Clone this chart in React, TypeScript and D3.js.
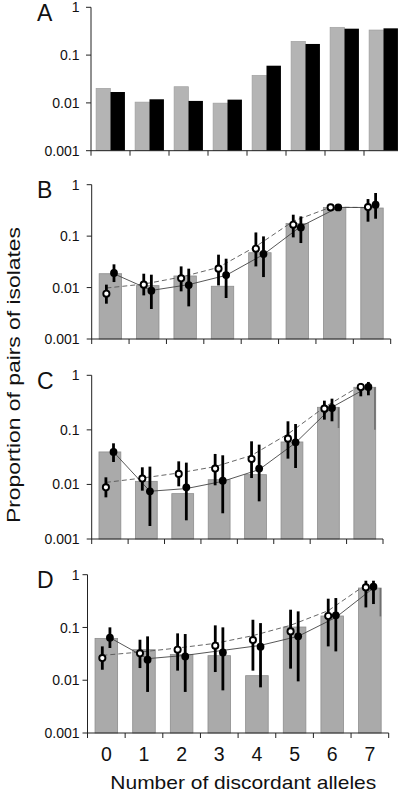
import React from "react";
import * as d3 from "d3";

const categories = ["0", "1", "2", "3", "4", "5", "6", "7"];
const yTickValues = [1, 0.1, 0.01, 0.001];
const yTickLabels = ["1", "0.1", "0.01", "0.001"];
const panelLetters = ["A", "B", "C", "D"];
const xAxisTitle = "Number of discordant alleles";
const yAxisTitle = "Proportion of pairs of isolates";

// Panel A: paired bars (grey, black)
const aGrey = [0.0202, 0.0104, 0.0218, 0.0099, 0.0378, 0.194, 0.382, 0.335];
const aBlack = [0.0169, 0.0119, 0.011, 0.0117, 0.06, 0.171, 0.357, 0.363];

// Panel B
const bBars = [0.0186, 0.0109, 0.0168, 0.0106, 0.0476, 0.177, 0.362, 0.352];
const bOpen = [0.0076, 0.0114, 0.0151, 0.0233, 0.057, 0.167, 0.362, 0.368];
const bOpenLo = [0.00486, 0.00705, 0.00844, 0.011, 0.0258, 0.0946, 0.312, 0.191];
const bOpenHi = [0.0114, 0.0186, 0.0258, 0.0436, 0.118, 0.261, 0.408, 0.526];
const bFilled = [0.0192, 0.00869, 0.0112, 0.0175, 0.0449, 0.148, 0.362, 0.408];
const bFilledLo = [0.0128, 0.00383, 0.00431, 0.00626, 0.016, 0.0734, 0.31, 0.218];
const bFilledHi = [0.0283, 0.0178, 0.0233, 0.0364, 0.0989, 0.242, 0.41, 0.689];
const bDashed = [0.0098, 0.0117, 0.016, 0.0247, 0.063, 0.195, 0.365, 0.36];
const bSolid = [0.0185, 0.0088, 0.0114, 0.0173, 0.044, 0.155, 0.362, 0.36];
const bEdgeBins: string[] = [];
const bEdgeLo: number[] = [];

// Panel C
const cBars = [0.0394, 0.0114, 0.00678, 0.0122, 0.0151, 0.06, 0.259, 0.603];
const cOpen = [0.00886, 0.0128, 0.0156, 0.0195, 0.0293, 0.069, 0.245, 0.611];
const cOpenLo = [0.0058, 0.00769, 0.00924, 0.00964, 0.0131, 0.0297, 0.154, 0.412];
const cOpenHi = [0.0135, 0.0206, 0.0265, 0.0362, 0.0617, 0.1436, 0.343, 0.724];
const cFilled = [0.0394, 0.00748, 0.00886, 0.0117, 0.0195, 0.0592, 0.252, 0.611];
const cFilledLo = [0.0258, 0.00173, 0.0022, 0.00296, 0.0049, 0.02, 0.1436, 0.43];
const cFilledHi = [0.0567, 0.0212, 0.0251, 0.0342, 0.0536, 0.128, 0.373, 0.755];
const cDashed = [0.0109, 0.0131, 0.0162, 0.0212, 0.034, 0.084, 0.26, 0.65];
const cSolid = [0.0394, 0.0075, 0.0084, 0.0114, 0.0187, 0.058, 0.26, 0.61];
const cEdgeBins = ["6", "7"];
const cEdgeLo = [0.108, 0.101];

// Panel D
const dBars = [0.0621, 0.0379, 0.0309, 0.0292, 0.0122, 0.102, 0.165, 0.559];
const dOpen = [0.0263, 0.0323, 0.0379, 0.0451, 0.0578, 0.0843, 0.165, 0.575];
const dOpenLo = [0.0158, 0.017, 0.0152, 0.0143, 0.0152, 0.0166, 0.0438, 0.24];
const dOpenHi = [0.0438, 0.0586, 0.0773, 0.1096, 0.14, 0.217, 0.351, 0.769];
const dFilled = [0.064, 0.0245, 0.0283, 0.0337, 0.0432, 0.0678, 0.1695, 0.593];
const dFilledLo = [0.0408, 0.006, 0.006, 0.00643, 0.00733, 0.00952, 0.0352, 0.278];
const dFilledHi = [0.1005, 0.0678, 0.0751, 0.1005, 0.121, 0.2018, 0.361, 0.769];
const dDashed = [0.0296, 0.0342, 0.0408, 0.05, 0.07, 0.11, 0.208, 0.646];
const dSolid = [0.064, 0.0256, 0.0296, 0.0368, 0.0458, 0.068, 0.155, 0.56];
const dEdgeBins = ["7"];
const dEdgeLo = [0.162];

const FONT = "'Liberation Sans', Arial, Helvetica, sans-serif";
const W = 405;
const H = 795;

type Layout = { x0: number; x1: number; y0: number; y1: number; axisEnd?: number };

const layoutA: Layout = { x0: 91, x1: 403, y0: 150.7, y1: 7.3, axisEnd: 398 };
const layoutB: Layout = { x0: 91.7, x1: 390.7, y0: 339, y1: 184.7 };
const layoutC: Layout = { x0: 91.7, x1: 383, y0: 539, y1: 375.3 };
const layoutD: Layout = { x0: 87.5, x1: 388.7, y0: 733, y1: 574.7 };

function YAxis({ lay, y, letter }: { lay: Layout; y: d3.ScaleLogarithmic<number, number>; letter: string }) {
  return (
    <g>
      <line x1={lay.x0} x2={lay.x0} y1={y(1)} y2={y(0.001)} stroke="#222" strokeWidth={1} />
      {yTickValues.map((v, i) => (
        <g key={i}>
          <line x1={lay.x0 - 5} x2={lay.x0} y1={y(v)} y2={y(v)} stroke="#222" strokeWidth={1} />
          <text x={79.5} y={y(v)} dy="0.36em" textAnchor="end" fontSize={14} fontFamily={FONT} fill="#111">
            {yTickLabels[i]}
          </text>
        </g>
      ))}
      <text x={37} y={y(1) + 13.3} fontSize={23} fontFamily={FONT} fill="#111">
        {letter}
      </text>
    </g>
  );
}

function XAxis({ lay, x, nTicks }: { lay: Layout; x: d3.ScaleBand<string>; nTicks: number }) {
  const step = x.step();
  const start = lay.x0;
  const edges = d3.range(nTicks).map((i) => start + i * step);
  const end = lay.axisEnd ?? lay.x1;
  return (
    <g>
      <line x1={lay.x0} x2={end} y1={lay.y0} y2={lay.y0} stroke="#222" strokeWidth={1} />
      {edges.map((ex, i) => (
        <line key={i} x1={ex} x2={ex} y1={lay.y0} y2={lay.y0 + 5} stroke="#222" strokeWidth={1} />
      ))}
    </g>
  );
}

function PanelA() {
  const lay = layoutA;
  const y = d3.scaleLog().domain([0.001, 1]).range([lay.y0, lay.y1]);
  const x = d3.scaleBand<string>().domain(categories).range([lay.x0, lay.x1]).paddingInner(0.26).paddingOuter(0.13);
  const sub = d3.scaleBand<string>().domain(["grey", "black"]).range([0, x.bandwidth()]);
  return (
    <g>
      {categories.map((c, i) => (
        <g key={c}>
          <rect x={(x(c) ?? 0) + (sub("grey") ?? 0)} y={y(aGrey[i])} width={sub.bandwidth()} height={lay.y0 - y(aGrey[i])}
            fill="#b4b4b4" stroke="#9c9c9c" strokeWidth={0.6} />
          <rect x={(x(c) ?? 0) + (sub("black") ?? 0)} y={y(aBlack[i])} width={sub.bandwidth()} height={lay.y0 - y(aBlack[i])}
            fill="#000" />
        </g>
      ))}
      <YAxis lay={lay} y={y} letter={panelLetters[0]} />
      <XAxis lay={lay} x={x} nTicks={8} />
    </g>
  );
}

type PanelData = {
  bars: number[];
  open: number[];
  openLo: number[];
  openHi: number[];
  filled: number[];
  filledLo: number[];
  filledHi: number[];
  dashed: number[];
  solid: number[];
  edgeBins: string[];
  edgeLo: number[];
};

function PanelErr({ lay, data, letter, showXLabels }: { lay: Layout; data: PanelData; letter: string; showXLabels?: boolean }) {
  const y = d3.scaleLog().domain([0.001, 1]).range([lay.y0, lay.y1]);
  const x = d3.scaleBand<string>().domain(categories).range([lay.x0, lay.x1]).paddingInner(0.4).paddingOuter(0.2);
  const cx = (c: string) => (x(c) ?? 0) + x.bandwidth() / 2;
  const openOff = -4;
  const filledOff = 3.6;
  const dashedLine = d3
    .line<number>()
    .x((_, i) => cx(categories[i]) + openOff)
    .y((v) => y(v));
  const solidLine = d3
    .line<number>()
    .x((_, i) => cx(categories[i]) + filledOff)
    .y((v) => y(v));
  return (
    <g>
      {categories.map((c, i) => (
        <rect key={c} x={x(c)} y={y(data.bars[i])} width={x.bandwidth()} height={lay.y0 - y(data.bars[i])}
          fill="#aaaaaa" stroke="#8e8e8e" strokeWidth={0.8} />
      ))}
      {data.edgeBins.map((c, i) => {
        const idx = categories.indexOf(c);
        const ex = (x(c) ?? 0) + x.bandwidth() - 0.8;
        return (
          <line key={c} x1={ex} x2={ex} y1={y(data.bars[idx])} y2={y(data.edgeLo[i])} stroke="#6e6e6e" strokeWidth={1.6} />
        );
      })}
      <path d={dashedLine(data.dashed) ?? ""} fill="none" stroke="#555" strokeWidth={0.9} strokeDasharray="5 3" />
      <path d={solidLine(data.solid) ?? ""} fill="none" stroke="#444" strokeWidth={0.9} />
      {categories.map((c, i) => (
        <g key={c}>
          <line x1={cx(c) + openOff} x2={cx(c) + openOff} y1={y(data.openLo[i])} y2={y(data.openHi[i])} stroke="#000" strokeWidth={2.8} />
          <line x1={cx(c) + filledOff} x2={cx(c) + filledOff} y1={y(data.filledLo[i])} y2={y(data.filledHi[i])} stroke="#000" strokeWidth={2.8} />
          <circle cx={cx(c) + openOff} cy={y(data.open[i])} r={3.1} fill="#fff" stroke="#000" strokeWidth={1.9} />
          <circle cx={cx(c) + filledOff} cy={y(data.filled[i])} r={3.9} fill="#000" />
        </g>
      ))}
      <YAxis lay={lay} y={y} letter={letter} />
      <XAxis lay={lay} x={x} nTicks={9} />
      {showXLabels &&
        categories.map((c) => (
          <text key={c} x={cx(c)} y={760.7} textAnchor="middle" fontSize={19.5} fontFamily={FONT} fill="#111">
            {c}
          </text>
        ))}
    </g>
  );
}

export default function App() {
  const dataB: PanelData = { bars: bBars, open: bOpen, openLo: bOpenLo, openHi: bOpenHi, filled: bFilled, filledLo: bFilledLo, filledHi: bFilledHi, dashed: bDashed, solid: bSolid, edgeBins: bEdgeBins, edgeLo: bEdgeLo };
  const dataC: PanelData = { bars: cBars, open: cOpen, openLo: cOpenLo, openHi: cOpenHi, filled: cFilled, filledLo: cFilledLo, filledHi: cFilledHi, dashed: cDashed, solid: cSolid, edgeBins: cEdgeBins, edgeLo: cEdgeLo };
  const dataD: PanelData = { bars: dBars, open: dOpen, openLo: dOpenLo, openHi: dOpenHi, filled: dFilled, filledLo: dFilledLo, filledHi: dFilledHi, dashed: dDashed, solid: dSolid, edgeBins: dEdgeBins, edgeLo: dEdgeLo };
  return (
    <svg width={W} height={H} style={{ position: "absolute", left: 0, top: 0, background: "#fff" }}>
      <rect x={0} y={0} width={W} height={H} fill="#fff" />
      <PanelA />
      <PanelErr lay={layoutB} data={dataB} letter={panelLetters[1]} />
      <PanelErr lay={layoutC} data={dataC} letter={panelLetters[2]} />
      <PanelErr lay={layoutD} data={dataD} letter={panelLetters[3]} showXLabels />
      <text x={243.3} y={789.3} textAnchor="middle" fontSize={19} fontFamily={FONT} fill="#111" textLength={266} lengthAdjust="spacingAndGlyphs">
        {xAxisTitle}
      </text>
      <text transform="translate(19.5,375) rotate(-90)" textAnchor="middle" fontSize={19} fontFamily={FONT} fill="#111" textLength={296} lengthAdjust="spacingAndGlyphs">
        {yAxisTitle}
      </text>
    </svg>
  );
}
